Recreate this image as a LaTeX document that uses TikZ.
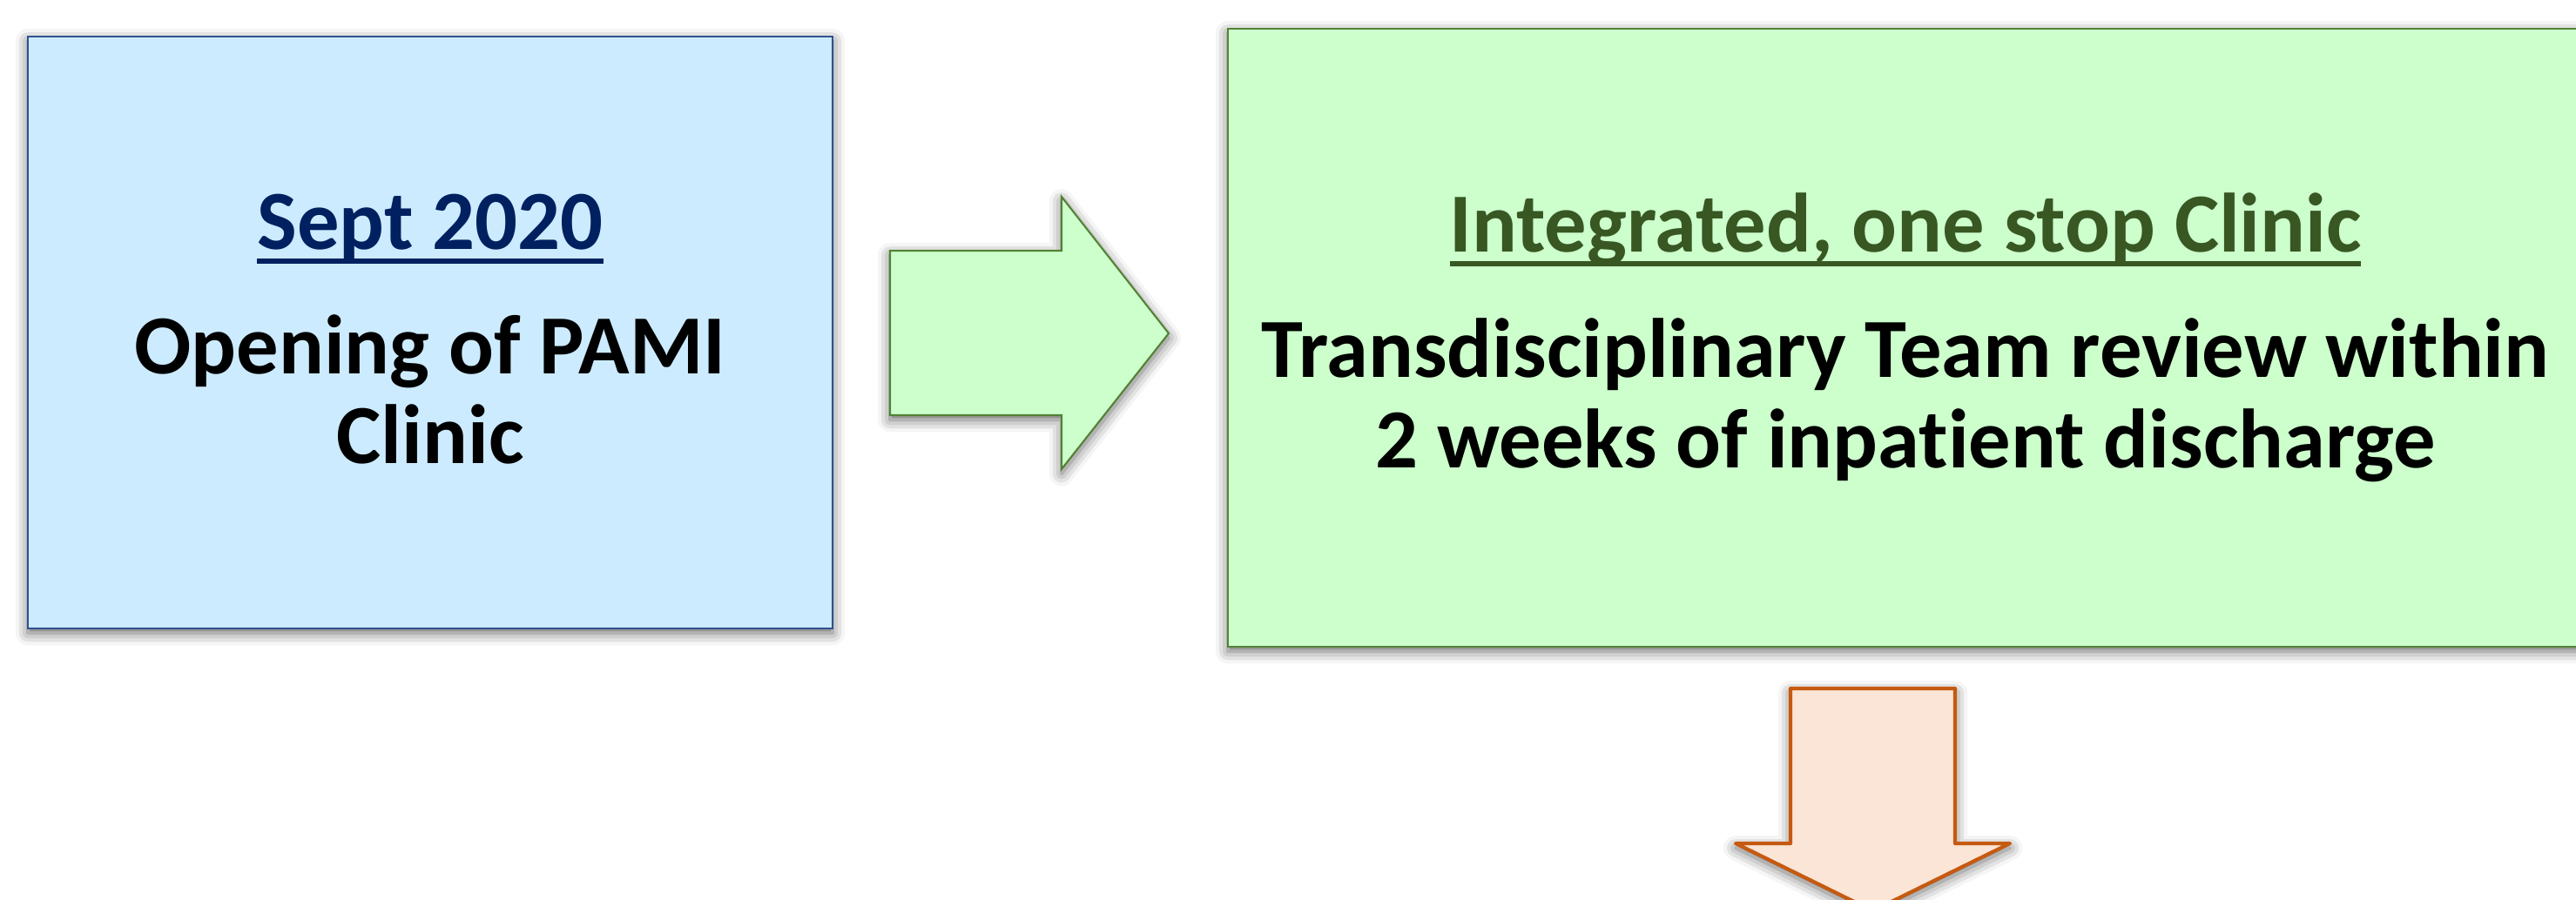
\documentclass[tikz,border=0pt]{standalone}
\usepackage{fontspec}
\setmainfont{Carlito}[Ligatures={NoCommon}]
\usetikzlibrary{shadows.blur,positioning}

\definecolor{bluefill}{RGB}{204,235,255}
\definecolor{blueline}{RGB}{47,82,143}
\definecolor{greenfill}{RGB}{204,255,204}
\definecolor{greenline}{RGB}{84,130,53}
\definecolor{greenhead}{RGB}{56,87,35}
\definecolor{navyhead}{RGB}{0,32,96}
\definecolor{orangefill}{RGB}{251,229,214}
\definecolor{orangeline}{RGB}{197,90,17}

% underline sitting just under the baseline
\newcommand{\ulinetext}[1]{\sbox0{#1}\rlap{\rule[-0.165cm]{\wd0}{0.06cm}}\usebox0}

\tikzset{
  softshadow/.style={blur shadow={shadow xshift=0pt, shadow yshift=-1.5pt,
      shadow blur radius=4pt, shadow opacity=60}},
  panel/.style={draw, line width=0.6pt, softshadow, inner sep=0pt},
  headtext/.style={font=\fontsize{27.5}{31}\selectfont\bfseries, anchor=base, inner sep=0pt},
  bodytext/.style={font=\fontsize{27.5}{31}\selectfont\bfseries, anchor=base, inner sep=0pt}
}

\begin{document}
\begin{tikzpicture}
    \useasboundingbox (0,0) rectangle (29.58,10.33);

    % Draw the two boxes
    \node[panel, draw=blueline, fill=bluefill, minimum width=9.24cm, minimum height=6.80cm] (opening) at (4.94,6.51) {};
    \node[panel, draw=greenline, fill=greenfill, minimum width=15.56cm, minimum height=7.10cm] (clinic) at (21.88,6.45) {};

    % Draw the block arrows
    \draw[draw=greenline, fill=greenfill, line width=0.6pt, softshadow]
        (10.22,7.45) -- (12.19,7.45) -- (12.19,8.07) -- (13.42,6.50)
        -- (12.19,4.94) -- (12.19,5.56) -- (10.22,5.56) -- cycle;
    \draw[draw=orangeline, fill=orangefill, line width=1.2pt, line join=round, softshadow]
        (20.56,2.42) -- (22.45,2.42) -- (22.45,0.64) -- (23.08,0.64)
        -- (21.505,-0.135) -- (19.93,0.64) -- (20.56,0.64) -- cycle;

    % Place the texts of the first box
    \node[headtext, text=navyhead] (sept) at ([yshift=0.95cm]opening.center) {\ulinetext{Sept 2020}};
    \node[bodytext] (openinga) at ([yshift=-0.48cm]opening.center) {Opening of PAMI};
    \node[bodytext] (openingb) at ([yshift=-1.03cm]openinga.base) {Clinic};

    % Place the texts of the second box
    \node[headtext, text=greenhead] (onestop) at ([yshift=0.98cm]clinic.center) {\ulinetext{Integrated, one stop Clinic}};
    \node[bodytext] (clinica) at ([yshift=-0.46cm]clinic.center) {Transdisciplinary Team review within};
    \node[bodytext] (clinicb) at ([yshift=-1.04cm]clinica.base) {2 weeks of inpatient discharge};
\end{tikzpicture}
\end{document}
